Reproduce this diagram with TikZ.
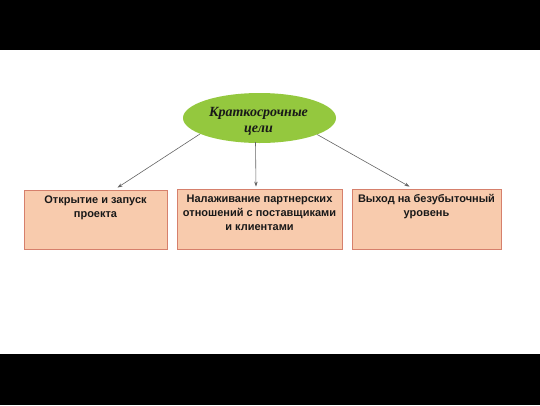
\documentclass[tikz,border=0pt]{standalone}
\usepackage{fontspec}
\setmainfont{Liberation Sans}
\newfontfamily\goalfont{Liberation Serif}
\usetikzlibrary{arrows.meta,calc,shapes.geometric}
\definecolor{goalgreen}{RGB}{148,200,62}
\definecolor{boxfill}{RGB}{248,203,173}
\definecolor{boxline}{RGB}{214,128,108}
\definecolor{linegray}{RGB}{100,100,100}
\tikzset{
  goalst/.style={ellipse, fill=goalgreen, minimum width=153pt, minimum height=50pt, inner sep=0pt},
  goaltext/.style={align=center, font=\goalfont\bfseries\itshape\fontsize{14}{16}\selectfont, text=black!90, inner sep=0pt},
  boxst/.style={rectangle, draw=boxline, line width=0.8pt, fill=boxfill, inner sep=0pt},
  lblst/.style={anchor=north, inner sep=0pt, align=center, font=\bfseries\fontsize{11}{14}\selectfont, text=black!90},
  conn/.style={draw=linegray, line width=0.6pt, -{Stealth[length=5pt,width=3.5pt]}}
}
\begin{document}
\begin{tikzpicture}[x=1pt,y=-1pt]
\useasboundingbox (0,0) rectangle (540,405);
\fill[black] (0,0) rectangle (540,50);
\fill[black] (0,354) rectangle (540,405);
\node[goalst] (goal) at (259.5,118) {};
\node[goaltext] (goalt) at (258.5,121) {Краткосрочные\\цели};
\node[boxst, minimum width=143pt, minimum height=59pt] (b1) at (95.5,219.5) {};
\node[boxst, minimum width=165pt, minimum height=60pt] (b2) at (259.5,219) {};
\node[boxst, minimum width=149pt, minimum height=60pt] (b3) at (426.5,219) {};
\node[lblst] (b1t) at ($(b1.north)+(0,6)$) {Открытие и запуск\\проекта};
\node[lblst] (b2t) at ($(b2.north)+(0,6)$) {Налаживание партнерских\\отношений с поставщиками\\и клиентами};
\node[lblst] (b3t) at ($(b3.north)+(0,6)$) {Выход на безубыточный\\уровень};
\draw[conn] (goal.195) -- ($(b1.north)+(22,-2)$);
\draw[conn] ($(goal.south)+(-4,-1)$) -- ($(b2.north)+(-3.5,-2)$);
\draw[conn] (goal.-16) -- ($(b3.north)+(-17,-2)$);
\end{tikzpicture}
\end{document}
